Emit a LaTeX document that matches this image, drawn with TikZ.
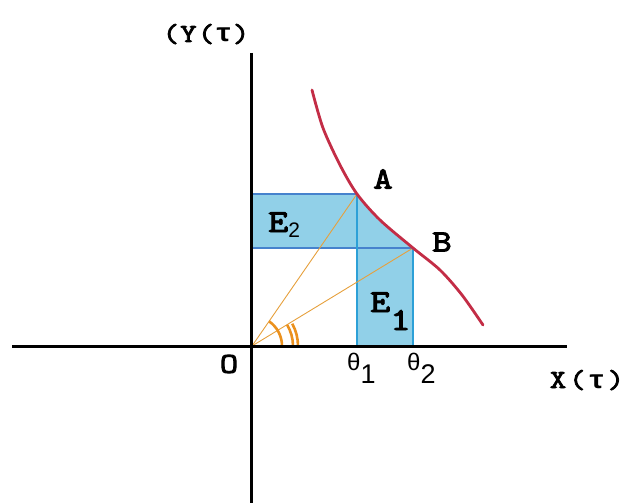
\documentclass[tikz,border=0pt]{standalone}
\usepackage{fontspec}
\newfontfamily\courb{lmmono10-regular}[Extension=.otf,FakeBold=3,FakeStretch=1.2]
\newfontfamily\monog{Liberation Mono Bold}[FakeStretch=1.1]
\newfontfamily\ari{Liberation Sans}
\definecolor{areablue}{RGB}{145,208,232}
\definecolor{hline}{RGB}{70,130,205}
\definecolor{vline}{RGB}{45,160,215}
\definecolor{curvered}{RGB}{195,45,70}
\definecolor{ray}{RGB}{230,160,60}
\definecolor{arcc}{RGB}{235,145,30}
\newcommand{\mytau}{{\monog τ}}
\newcommand{\ch}[2]{\makebox[#1pt]{#2}}
\tikzset{
  axis/.style={line width=3pt,black},
  lbl/.style={inner sep=0pt},
  hedge/.style={line width=1.4pt,hline},
  vedge/.style={line width=2.4pt,vline},
  rayline/.style={line width=0.9pt,ray},
  anglearc/.style={line width=2.6pt,arcc},
}
\begin{document}
\begin{tikzpicture}[x=1pt,y=-1pt]
\useasboundingbox (0,0) rectangle (627,503);
\coordinate (O) at (252,346);
\coordinate (A) at (357,194);
\coordinate (B) at (413,248);
\coordinate (T1) at (357,346);
\coordinate (T2) at (413,346);
\coordinate (YA) at (252,194);
\coordinate (YB) at (252,248);
\coordinate (M) at (357,248);
\coordinate (xl) at (12,346);
\coordinate (xr) at (567,346);
\coordinate (yt) at (251,53);
\coordinate (yb) at (251,503);
% shaded regions
\fill[areablue] (YA) rectangle (M);
\fill[areablue] (M) rectangle (T2);
\fill[areablue] plot[smooth] coordinates {(357,194) (380,220) (413,248)} -- (M) -- cycle;
% edges
\draw[hedge] (YA) -- (A);
\draw[hedge] (YB) -- (B);
\draw[vedge] (A) -- (T1);
\draw[vedge] (B) -- (T2);
% rays
\draw[rayline] (O) -- (A);
\draw[rayline] (O) -- (B);
% angle arcs
\draw[anglearc] ([shift={(30,0)}]O) arc[start angle=0,end angle=-55,radius=30];
\draw[anglearc] ([shift={(41,0)}]O) arc[start angle=0,end angle=-31,radius=41];
\draw[anglearc] ([shift={(46,0)}]O) arc[start angle=0,end angle=-29,radius=46];
% axes
\draw[axis] (xl) -- (xr);
\draw[axis] (yt) -- (yb);
% curve
\draw[line width=2.8pt,curvered,line cap=round] plot[smooth] coordinates {(312,90) (323,128) (340,165) (357,194) (380,220) (413,248) (440,270) (462,295) (483,325)};
% labels
\node[lbl,anchor=base,font=\courb\fontsize{26}{26}\selectfont] (ylab) at (206,42) {\ch{17.6}{(}\ch{17.6}{Y}\ch{17.6}{(}\ch{17.6}{\mytau}\ch{17.6}{)}};
\node[lbl,anchor=base,font=\courb\fontsize{26}{26}\selectfont] (xlab) at (587,388) {\ch{19.3}{X}\ch{19.3}{(}\ch{19.3}{\mytau}\ch{19.3}{)}};
\node[lbl,font=\courb\fontsize{31}{31}\selectfont] (Alab) at (383,179) {A};
\node[lbl,font=\courb\fontsize{31}{31}\selectfont] (Blab) at (442,242) {B};
\node[lbl,font=\courb\fontsize{29}{29}\selectfont] (Olab) at (229,364) {O};
\node[lbl,anchor=base west] (E2lab) at (268,232) {\courb\fontsize{32}{32}\selectfont E\raisebox{-5pt}{\ari\fontsize{21}{21}\selectfont 2}};
\node[lbl,anchor=base west] (E1lab) at (370,312) {\courb\fontsize{32}{32}\selectfont E\raisebox{-18pt}{1}};
\node[lbl,anchor=base west,font=\ari] (t1lab) at (347,370) {\fontsize{24}{24}\selectfont θ\raisebox{-13pt}{\fontsize{27}{27}\selectfont 1}};
\node[lbl,anchor=base west,font=\ari] (t2lab) at (407,370) {\fontsize{24}{24}\selectfont θ\raisebox{-13pt}{\fontsize{27}{27}\selectfont 2}};
\end{tikzpicture}
\end{document}
